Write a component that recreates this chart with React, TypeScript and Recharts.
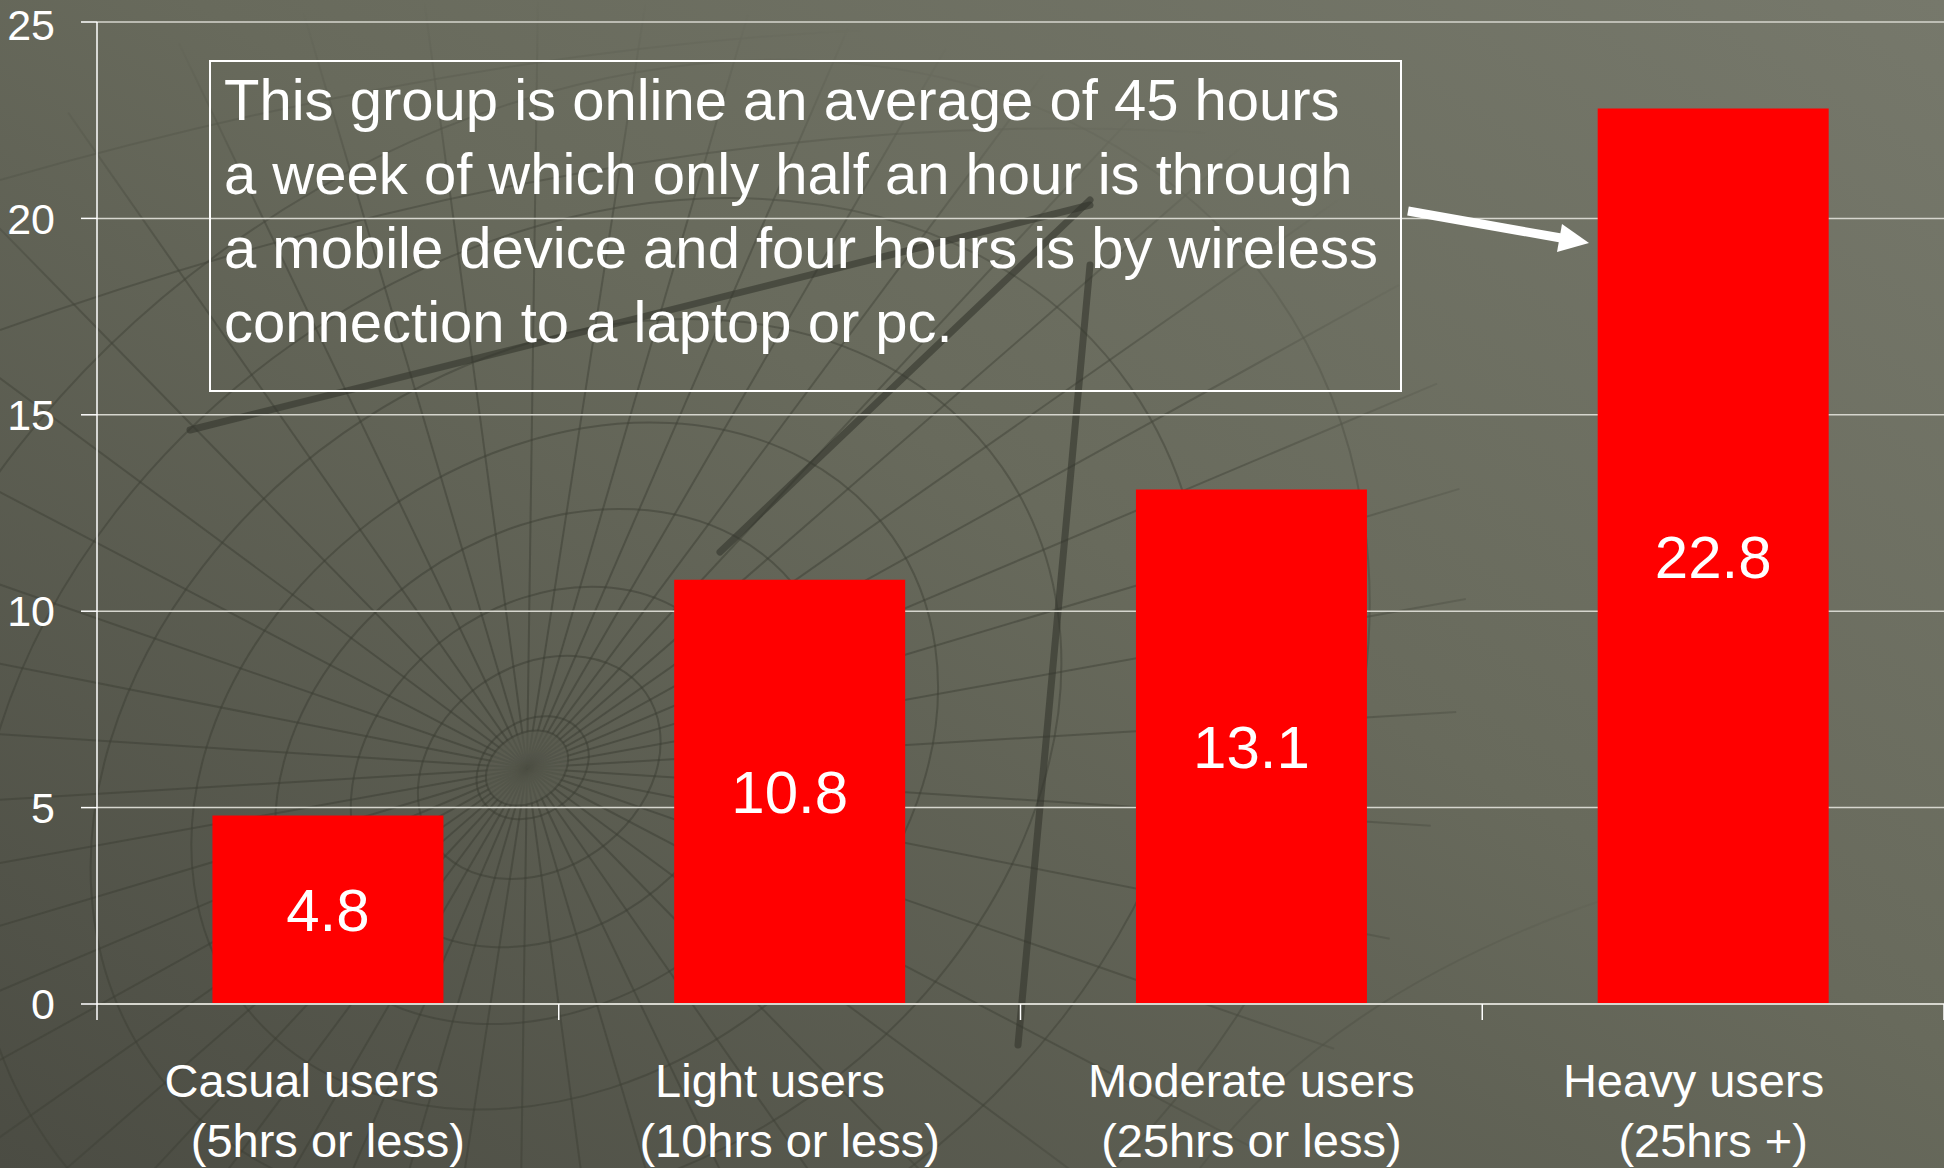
import { BarChart, Bar, XAxis, YAxis, CartesianGrid, LabelList } from "recharts";

const categories = ["Casual users    ", "Light users   ", "Moderate users", "Heavy users   "];
const categoryNotes = ["(5hrs or less)", "(10hrs or less)", "(25hrs or less)", "(25hrs +)"];
const hours = [4.8, 10.8, 13.1, 22.8];
const yTicks = [0, 5, 10, 15, 20, 25];
const noteLines = [
  "This group is online an average of 45 hours",
  "a week of which only half an hour is through",
  "a mobile device and four hours is by wireless",
  "connection to a laptop or pc.",
];

const W = 1944;
const H = 1168;
const LEFT = 97;
const BAND = (W - LEFT) / categories.length;
const FONT = "'Liberation Sans', Arial, Helvetica, sans-serif";

const data = categories.map((name, i) => ({ name, hours: hours[i] }));

function CategoryTick(props: any) {
  const { x, y, index } = props;
  const half = BAND / 2;
  const last = index === categories.length - 1;
  return (
    <g>
      <line x1={x - half} x2={x - half} y1={y} y2={y + 16} stroke="#ffffff" strokeWidth={1.5} />
      {last && <line x1={x + half} x2={x + half} y1={y} y2={y + 16} stroke="#ffffff" strokeWidth={1.5} />}
      <text
        textAnchor="middle"
        fill="#ffffff"
        fontSize={47}
        fontFamily={FONT}
        xmlSpace="preserve"
        style={{ whiteSpace: "pre" }}
      >
        <tspan x={x} y={y + 93}>{categories[index]}</tspan>
        <tspan x={x} y={y + 153}>{categoryNotes[index]}</tspan>
      </text>
    </g>
  );
}

// faint globe drawing in the slide background
function Backdrop() {
  const rings = [60, 130, 210, 300, 400, 520, 660, 820];
  const spokes = Array.from({ length: 48 }, (_, i) => (i * Math.PI * 2) / 48);
  const cx = 527;
  const cy = 768;
  const line = "rgba(58,60,50,0.5)";
  return (
    <svg width={W} height={H} style={{ position: "absolute", left: 0, top: 0 }}>
      <defs>
        <linearGradient id="bg" x1="1" y1="0" x2="0" y2="1">
          <stop offset="0%" stopColor="#76786b" />
          <stop offset="45%" stopColor="#686a5c" />
          <stop offset="100%" stopColor="#4b4c43" />
        </linearGradient>
        <radialGradient id="fade" cx="0.27" cy="0.6" r="0.6">
          <stop offset="0%" stopColor="#fff" stopOpacity={1} />
          <stop offset="70%" stopColor="#fff" stopOpacity={0.8} />
          <stop offset="100%" stopColor="#fff" stopOpacity={0} />
        </radialGradient>
        <mask id="globeMask">
          <rect width={W} height={H} fill="url(#fade)" />
        </mask>
      </defs>
      <rect width={W} height={H} fill="url(#bg)" />
      <g mask="url(#globeMask)">
        <g transform={`rotate(-35 ${cx} ${cy})`} fill="none" stroke={line} strokeWidth={2}>
          {rings.map((r) => (
            <ellipse key={r} cx={cx + r * 0.08} cy={cy + r * 0.05} rx={r} ry={r * 0.78} />
          ))}
          {spokes.map((a, i) => (
            <line key={i} x1={cx} y1={cy} x2={cx + Math.cos(a) * 1000} y2={cy + Math.sin(a) * 800} />
          ))}
          <ellipse cx={cx} cy={cy} rx={44} ry={34} fill="rgba(90,92,80,0.6)" />
        </g>
        <g fill="none" stroke={line} strokeWidth={2}>
          <path d="M 0 180 Q 700 -20 1300 40" />
          <path d="M 0 330 Q 700 80 1300 140" />
          <path d="M 1200 1168 Q 1400 900 1944 820" />
        </g>
      </g>
      <g stroke="rgba(52,54,45,0.6)" strokeWidth={7} strokeLinecap="round">
        <line x1={720} y1={552} x2={1090} y2={200} />
        <line x1={1018} y1={1045} x2={1090} y2={265} />
        <line x1={190} y1={430} x2={1090} y2={205} />
      </g>
    </svg>
  );
}

function Note() {
  return (
    <svg width={W} height={H} style={{ position: "absolute", left: 0, top: 0, pointerEvents: "none" }}>
      <rect x={210} y={61} width={1191} height={330} fill="none" stroke="#ffffff" strokeWidth={2} />
      {noteLines.map((t, i) => (
        <text key={i} x={224} y={120 + i * 74} fill="#ffffff" fontSize={58} fontFamily={FONT}>
          {t}
        </text>
      ))}
      <line x1={1408} y1={211} x2={1561} y2={238} stroke="#ffffff" strokeWidth={9} />
      <polygon points="1589,243 1557,252 1562,224" fill="#ffffff" />
    </svg>
  );
}

export default function App() {
  return (
    <div style={{ position: "absolute", left: 0, top: 0, width: W, height: H, overflow: "hidden" }}>
      <Backdrop />
      <div style={{ position: "absolute", left: 0, top: 0 }}>
        <BarChart width={W} height={H} data={data} margin={{ top: 22, right: 0, left: 0, bottom: 0 }} barCategoryGap="25%">
          <CartesianGrid vertical={false} stroke="#d6d6ce" strokeWidth={1.5} />
          <XAxis
            dataKey="name"
            height={164}
            interval={0}
            tickSize={0}
            tickMargin={0}
            tickLine={false}
            axisLine={{ stroke: "#d6d6ce", strokeWidth: 2 }}
            tick={<CategoryTick />}
          />
          <YAxis
            width={97}
            domain={[0, 25]}
            ticks={yTicks}
            tickSize={16}
            tickMargin={26}
            axisLine={{ stroke: "#ffffff", strokeWidth: 1.5 }}
            tickLine={{ stroke: "#ffffff", strokeWidth: 1.5 }}
            tick={{ fill: "#ffffff", fontSize: 43, fontFamily: FONT }}
          />
          <Bar dataKey="hours" fill="#ff0000" isAnimationActive={false}>
            <LabelList dataKey="hours" position="center" fill="#ffffff" fontSize={60} fontFamily={FONT} />
          </Bar>
        </BarChart>
      </div>
      <Note />
    </div>
  );
}
